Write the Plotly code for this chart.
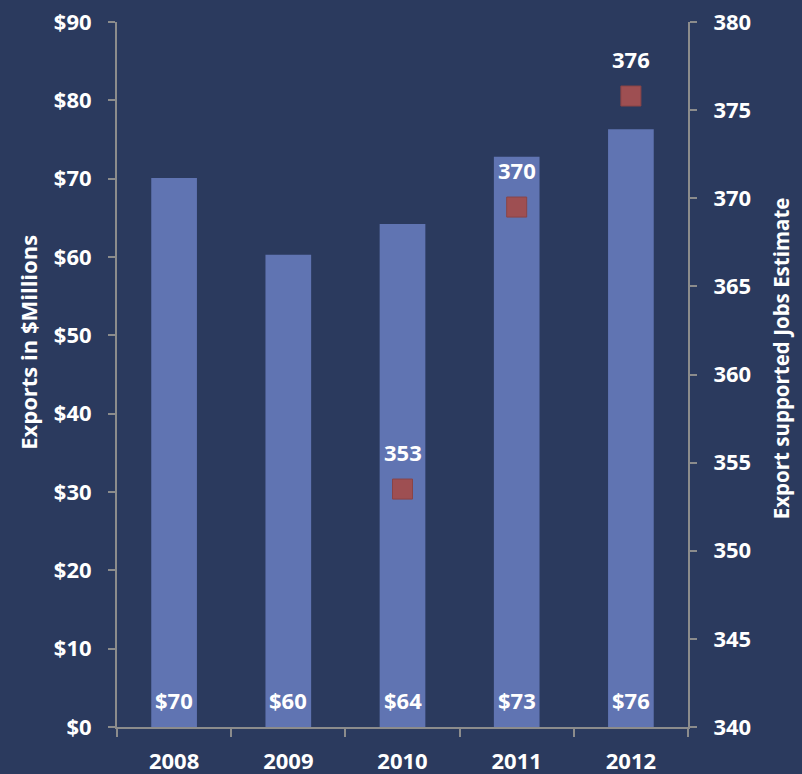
import plotly.graph_objects as go

years = ["2008", "2009", "2010", "2011", "2012"]
exports = [70.1, 60.3, 64.2, 72.8, 76.3]
export_labels = ["$70", "$60", "$64", "$73", "$76"]
job_years = ["2010", "2011", "2012"]
jobs = [353.5, 369.5, 375.8]
job_labels = ["353", "370", "376"]
left_ticks = [0, 10, 20, 30, 40, 50, 60, 70, 80, 90]
left_tick_text = ["$0", "$10", "$20", "$30", "$40", "$50", "$60", "$70", "$80", "$90"]
right_ticks = [340, 345, 350, 355, 360, 365, 370, 375, 380]
left_title = "Exports in $Millions"
right_title = "Export supported Jobs Estimate"

BG = "#2B3A5E"
BAR = "#6074B2"
MARK = "#9E4F52"
AX = "#8C8C8C"
FONT = "Open Sans"

xpos = list(range(len(years)))
job_x = [years.index(y) for y in job_years]
boundaries = [i - 0.5 for i in range(len(years) + 1)]

fig = go.Figure()
fig.add_trace(go.Bar(
    x=xpos, y=exports, width=0.4, marker=dict(color=BAR, line=dict(width=0)),
    showlegend=False, hoverinfo="skip"))
for xv, t in zip(xpos, export_labels):
    fig.add_annotation(x=xv, y=0, xref="x", yref="y", text=t, showarrow=False,
                       yanchor="middle", yshift=27,
                       font=dict(color="white", size=22, family=FONT, weight="bold"))
fig.add_trace(go.Scatter(
    x=job_x, y=jobs, yaxis="y2", mode="markers",
    marker=dict(symbol="square", size=20, color=MARK, line=dict(color="#8A4446", width=1)),
    showlegend=False, hoverinfo="skip"))
for xv, yv, t in zip(job_x, jobs, job_labels):
    fig.add_annotation(x=xv, y=yv, xref="x", yref="y2", text=t, showarrow=False,
                       yanchor="middle", yshift=37,
                       font=dict(color="white", size=22, family=FONT, weight="bold"))

fig.add_annotation(x=0, y=0.545, xref="paper", yref="paper", xanchor="center", yanchor="middle",
                   xshift=-89, text=left_title, textangle=-90, showarrow=False,
                   font=dict(color="white", size=22, family=FONT, weight="bold"))
fig.add_annotation(x=1, y=0.523, xref="paper", yref="paper", xanchor="center", yanchor="middle",
                   xshift=93, text=right_title, textangle=-90, showarrow=False,
                   font=dict(color="white", size=20.5, family=FONT, weight="bold"))

fig.update_layout(
    width=802, height=774, paper_bgcolor=BG, plot_bgcolor=BG,
    margin=dict(l=117, r=114, t=22, b=47),
    font=dict(family=FONT, color="white"),
    xaxis=dict(range=[-0.5, len(years) - 0.5], tickvals=xpos, ticktext=years,
               ticks="", ticklen=0, tickangle=0, ticklabelstandoff=14, automargin=False,
               minor=dict(tickvals=boundaries, ticks="outside", ticklen=8,
                          tickcolor=AX, tickwidth=2, showgrid=False),
               showline=True, linecolor=AX, linewidth=2,
               showgrid=False, zeroline=False,
               tickfont=dict(size=22, color="white", family=FONT, weight="bold")),
    yaxis=dict(range=[0, 90], tickvals=left_ticks, ticktext=left_tick_text,
               ticks="outside", ticklen=7, tickcolor=AX, tickwidth=2, automargin=False,
               ticklabelstandoff=12,
               showline=True, linecolor=AX, linewidth=2, showgrid=False, zeroline=False,
               tickfont=dict(size=22, color="white", family=FONT, weight="bold")),
    yaxis2=dict(range=[340, 380], tickvals=right_ticks, overlaying="y", side="right",
                ticks="outside", ticklen=7, tickcolor=AX, tickwidth=2, automargin=False,
                ticklabelstandoff=12,
                showline=True, linecolor=AX, linewidth=2, showgrid=False, zeroline=False,
                tickfont=dict(size=22, color="white", family=FONT, weight="bold")),
)
fig.write_html("out.html")
